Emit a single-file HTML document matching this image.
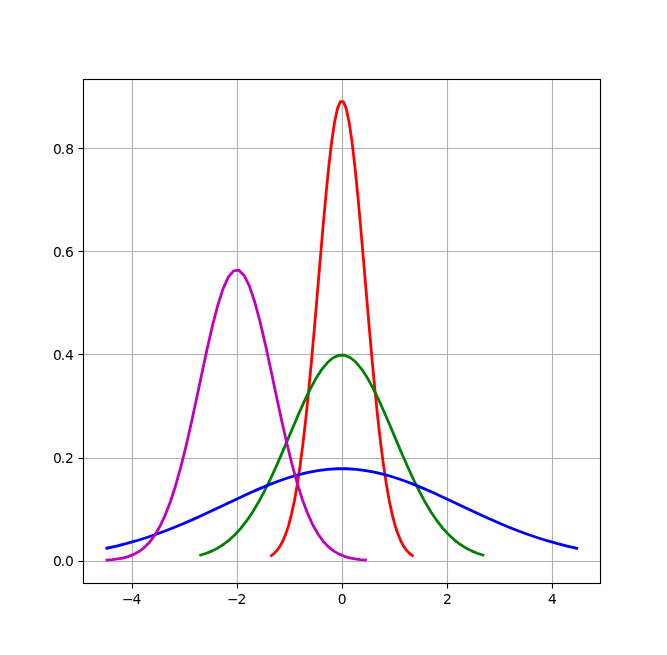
<!DOCTYPE html>
<html lang="en">
<head>
<meta charset="utf-8">
<title>Normal distribution curves</title>
<style>
html,body{margin:0;padding:0;background:#fff;}
body{width:667px;height:655px;overflow:hidden;}
svg{display:block;}
.tick{font-family:"DejaVu Sans","Liberation Sans",sans-serif;font-size:13.889px;fill:#000;}
.grid line{stroke:#b0b0b0;stroke-width:1.1111;}
.ticks line{stroke:#000;stroke-width:1.1111;}
.curve{fill:none;stroke-width:2.7778;stroke-linecap:square;stroke-linejoin:round;}
</style>
</head>
<body>
<svg width="667" height="655" viewBox="0 0 667 655">
<rect x="0" y="0" width="667" height="655" fill="#ffffff"/>
<g class="grid">
<line x1="132.5" y1="79.5" x2="132.5" y2="583.5"/>
<line x1="237.5" y1="79.5" x2="237.5" y2="583.5"/>
<line x1="342.5" y1="79.5" x2="342.5" y2="583.5"/>
<line x1="447.5" y1="79.5" x2="447.5" y2="583.5"/>
<line x1="552.5" y1="79.5" x2="552.5" y2="583.5"/>
<line x1="83.5" y1="561.5" x2="600.5" y2="561.5"/>
<line x1="83.5" y1="458.5" x2="600.5" y2="458.5"/>
<line x1="83.5" y1="354.5" x2="600.5" y2="354.5"/>
<line x1="83.5" y1="251.5" x2="600.5" y2="251.5"/>
<line x1="83.5" y1="148.5" x2="600.5" y2="148.5"/>
</g>
<defs><clipPath id="ax"><rect x="83.375" y="78.6" width="517.25" height="505.8"/></clipPath></defs>
<g clip-path="url(#ax)">
<path class="curve" stroke="#ff0000" d="M271.348 555.567 L274.225 553.353 L277.102 550.338 L279.979 546.297 L282.856 540.975 L285.733 534.086 L288.611 525.322 L291.488 514.368 L294.365 500.923 L297.242 484.723 L300.119 465.567 L302.996 443.352 L305.873 418.102 L308.750 389.996 L311.628 359.391 L314.505 326.831 L317.382 293.047 L320.259 258.940 L323.136 225.549 L326.013 194.002 L328.890 165.457 L331.768 141.028 L334.645 121.721 L337.522 108.358 L340.399 101.525 L343.276 101.525 L346.153 108.358 L349.030 121.721 L351.907 141.028 L354.785 165.457 L357.662 194.002 L360.539 225.549 L363.416 258.940 L366.293 293.047 L369.170 326.831 L372.047 359.391 L374.925 389.996 L377.802 418.102 L380.679 443.352 L383.556 465.567 L386.433 484.723 L389.310 500.923 L392.187 514.368 L395.064 525.322 L397.942 534.086 L400.819 540.975 L403.696 546.297 L406.573 550.338 L409.450 553.353 L412.327 555.567"/>
<path class="curve" stroke="#008000" d="M200.663 555.112 L206.425 553.249 L212.187 550.882 L217.949 547.915 L223.712 544.247 L229.474 539.779 L235.236 534.413 L240.998 528.064 L246.761 520.665 L252.523 512.173 L258.285 502.583 L264.047 491.928 L269.809 480.292 L275.572 467.810 L281.334 454.673 L287.096 441.124 L292.858 427.455 L298.621 413.999 L304.383 401.114 L310.145 389.173 L315.907 378.542 L321.670 369.564 L327.432 362.542 L333.194 357.718 L338.956 355.262 L344.719 355.262 L350.481 357.718 L356.243 362.542 L362.005 369.564 L367.768 378.542 L373.530 389.173 L379.292 401.114 L385.054 413.999 L390.817 427.455 L396.579 441.124 L402.341 454.673 L408.103 467.810 L413.866 480.292 L419.628 491.928 L425.390 502.583 L431.152 512.173 L436.914 520.665 L442.677 528.064 L448.439 534.413 L454.201 539.779 L459.963 544.247 L465.726 547.915 L471.488 550.882 L477.250 553.249 L483.012 555.112"/>
<path class="curve" stroke="#0000ff" d="M106.872 548.226 L116.462 546.066 L126.052 543.646 L135.643 540.957 L145.233 537.995 L154.824 534.761 L164.414 531.263 L174.005 527.515 L183.595 523.537 L193.186 519.358 L202.776 515.015 L212.366 510.549 L221.957 506.013 L231.547 501.462 L241.138 496.959 L250.728 492.568 L260.319 488.358 L269.909 484.398 L279.500 480.756 L289.090 477.495 L298.680 474.677 L308.271 472.354 L317.861 470.570 L327.452 469.361 L337.042 468.751 L346.633 468.751 L356.223 469.361 L365.814 470.570 L375.404 472.354 L384.995 474.677 L394.585 477.495 L404.175 480.756 L413.766 484.398 L423.356 488.358 L432.947 492.568 L442.537 496.959 L452.128 501.462 L461.718 506.013 L471.309 510.549 L480.899 515.015 L490.489 519.358 L500.080 523.537 L509.670 527.515 L519.261 531.263 L528.851 534.761 L538.442 537.995 L548.032 540.957 L557.623 543.646 L567.213 546.066 L576.803 548.226"/>
<path class="curve" stroke="#bf00bf" d="M106.984 560.025 L112.259 559.617 L117.535 558.988 L122.810 558.040 L128.086 556.642 L133.361 554.626 L138.636 551.783 L143.912 547.866 L149.187 542.592 L154.463 535.656 L159.738 526.751 L165.014 515.595 L170.289 501.966 L175.565 485.744 L180.840 466.948 L186.115 445.778 L191.391 422.639 L196.666 398.149 L201.942 373.135 L207.217 348.591 L212.493 325.623 L217.768 305.367 L223.044 288.901 L228.319 277.148 L233.594 270.792 L238.870 270.209 L244.145 275.435 L249.421 286.158 L254.696 301.752 L259.972 321.336 L265.247 343.854 L270.523 368.175 L275.798 393.179 L281.073 417.845 L286.349 441.310 L291.624 462.911 L296.900 482.201 L302.175 498.943 L307.451 513.083 L312.726 524.716 L318.002 534.048 L323.277 541.352 L328.552 546.933 L333.828 551.097 L339.103 554.133 L344.379 556.296 L349.654 557.802 L354.930 558.829 L360.205 559.512 L365.480 559.958"/>
</g>
<g class="ticks">
<line x1="132.5" y1="583.5" x2="132.5" y2="588.5"/>
<line x1="237.5" y1="583.5" x2="237.5" y2="588.5"/>
<line x1="342.5" y1="583.5" x2="342.5" y2="588.5"/>
<line x1="447.5" y1="583.5" x2="447.5" y2="588.5"/>
<line x1="552.5" y1="583.5" x2="552.5" y2="588.5"/>
<line x1="78.5" y1="561.5" x2="83.5" y2="561.5"/>
<line x1="78.5" y1="458.5" x2="83.5" y2="458.5"/>
<line x1="78.5" y1="354.5" x2="83.5" y2="354.5"/>
<line x1="78.5" y1="251.5" x2="83.5" y2="251.5"/>
<line x1="78.5" y1="148.5" x2="83.5" y2="148.5"/>
</g>
<rect x="83.5" y="79.5" width="517.0" height="504.0" fill="none" stroke="#000" stroke-width="1.1111" stroke-linejoin="miter"/>
<g class="tick">
<text x="122.09 132.56" y="604.14">−4</text>
<text x="226.97 237.54" y="604.19">−2</text>
<text x="337.87" y="604.40">0</text>
<text x="442.91" y="604.21">2</text>
<text x="548.09" y="604.10">4</text>
<text x="53.01 60.74 64.98" y="566.05">0.0</text>
<text x="53.01 60.74 65.02" y="462.86">0.2</text>
<text x="53.01 60.74 65.11" y="359.67">0.4</text>
<text x="53.01 60.74 65.06" y="256.66">0.6</text>
<text x="53.01 60.74 65.23" y="154.49">0.8</text>
</g>
</svg>
</body>
</html>
